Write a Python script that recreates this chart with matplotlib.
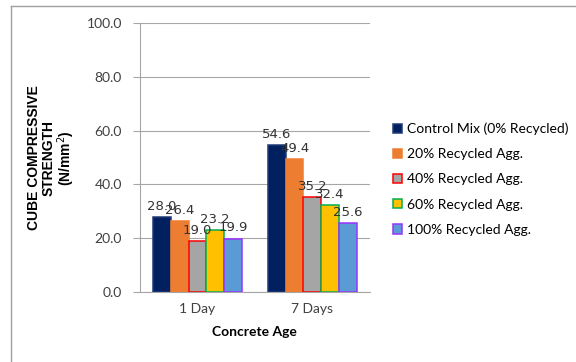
import numpy as np
import matplotlib.pyplot as plt
from matplotlib.lines import Line2D

ages = ['1 Day', '7 Days']
series = ['Control Mix (0% Recycled)', '20% Recycled Agg.', '40% Recycled Agg.',
          '60% Recycled Agg.', '100% Recycled Agg.']
control = [28.0, 54.6]
rca20 = [26.4, 49.4]
rca40 = [19.0, 35.2]
rca60 = [23.2, 32.4]
rca100 = [19.9, 25.6]

fills = ['#002060', '#ED7D31', '#A5A5A5', '#FFC000', '#5B9BD5']
edges = ['#1F3A78', '#ED7D31', '#FF0000', '#00B050', '#9933FF']

fig = plt.figure(figsize=(5.76, 3.62), dpi=100)
ax = fig.add_axes([0.243, 0.193, 0.399, 0.7435])

x = np.arange(len(ages))
w = 0.155
for i, vals in enumerate([control, rca20, rca40, rca60, rca100]):
    pos = x + (i - 2) * w
    bars = ax.bar(pos, vals, w, color=fills[i], edgecolor=edges[i],
                  linewidth=1.1, label=series[i], zorder=3)
    for b, v in zip(bars, vals):
        ax.annotate(f'{v:.1f}', (b.get_x() + b.get_width() / 2, v),
                    xytext=(0, 3), textcoords='offset points',
                    ha='center', va='bottom', fontsize=9.5,
                    family='DejaVu Sans', color='#333333', zorder=4)

ax.set_xlim(-0.5, 1.5)
ax.set_ylim(0, 100)
ax.set_yticks(np.arange(0, 101, 20))
ax.set_yticklabels([f'{t:.1f}' for t in np.arange(0, 101, 20)],
                   family='Lato', fontsize=10, color='#404040')
ax.set_xticks(x)
ax.set_xticklabels(ages, family='Lato', fontsize=10, color='#404040')
ax.tick_params(axis='y', length=5, width=0.8, color='#A6A6A6', pad=8)
ax.tick_params(axis='x', length=0, pad=8)
ax.yaxis.grid(True, color='#A6A6A6', linewidth=0.8, zorder=0)
for s in ['top', 'right']:
    ax.spines[s].set_visible(False)
for s in ['left', 'bottom']:
    ax.spines[s].set_color('#A6A6A6')
    ax.spines[s].set_linewidth(0.8)

ax.set_xlabel('Concrete Age', family='Lato', fontweight='bold', fontsize=10, labelpad=8)
fig.text(52 / 576, 1 - 158 / 362, 'CUBE COMPRESSIVE\nSTRENGTH\n(N/mm$^2$)',
         family='Liberation Sans', fontweight='bold', fontsize=10,
         linespacing=1.05, rotation=90, ha='center', va='center')

fig.legend(loc='center left', bbox_to_anchor=(0.672, 0.505), frameon=False,
           prop={'family': 'Lato', 'size': 10}, labelspacing=0.95,
           handlelength=0.65, handleheight=0.65, handletextpad=0.4,
           borderaxespad=0)

# thin frame lines on the left and top of the chart area
fig.add_artist(Line2D([0.019, 0.019], [0, 0.983], transform=fig.transFigure,
                      color='#A0A0A0', linewidth=1))
fig.add_artist(Line2D([0.019, 1.0], [0.983, 0.983], transform=fig.transFigure,
                      color='#A0A0A0', linewidth=1))

fig.savefig('out.png', dpi=100)
